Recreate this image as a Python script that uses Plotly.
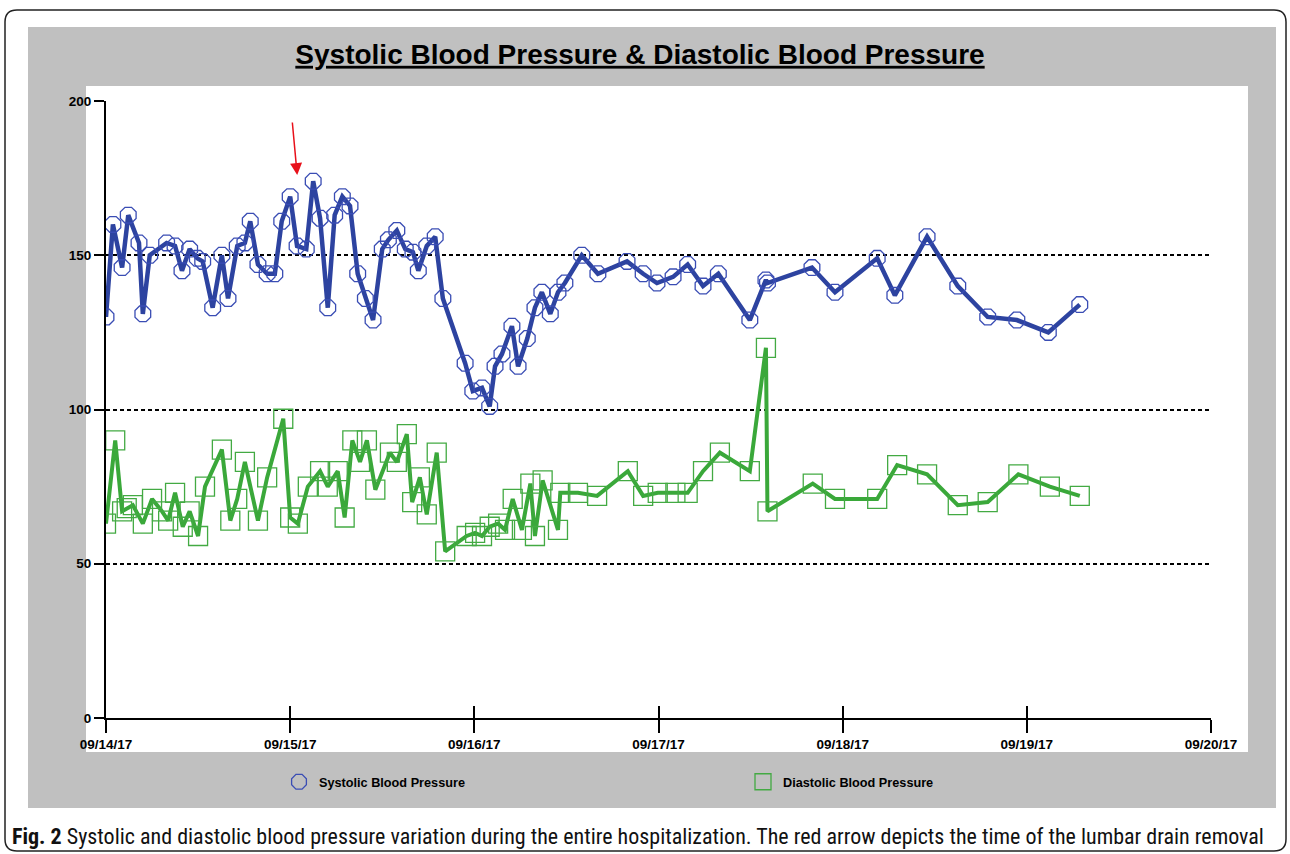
import plotly.graph_objects as go
import pandas as pd

# ---------------- data ----------------
start = pd.Timestamp("2017-09-14 00:00")

sys_hours = [0.0, 0.9, 2.1, 2.9, 4.3, 4.8, 5.7, 7.9, 9.0, 9.9, 10.9, 11.9, 12.6, 13.9, 15.1, 15.9,
             17.1, 18.1, 18.8, 19.8, 21.0, 22.0, 22.9, 24.0, 24.9, 26.1, 27.0, 27.9, 28.9, 29.8,
             30.8, 31.8, 32.8, 33.8, 34.8, 36.0, 36.8, 37.9, 39.0, 40.0, 40.7, 41.8, 42.9, 43.9,
             46.8, 47.8, 49.0, 50.0, 50.7, 51.6, 52.9, 53.7, 54.9, 55.9, 56.8, 57.9, 58.9, 59.8,
             62.0, 64.1, 67.9, 70.0, 71.8, 73.9, 75.8, 77.8, 79.8, 83.9, 86.0, 86.2, 92.0, 95.0,
             100.5, 102.8, 107.0, 111.0, 114.9, 118.7, 122.8, 126.9]
systolic = [130, 160, 146, 163, 154, 131, 150, 154, 153, 145, 152, 149, 148, 133, 150, 136,
            153, 154, 161, 147, 144, 144, 161, 169, 153, 152, 174, 162, 133, 163,
            169, 166, 144, 136, 129, 152, 155, 158, 152, 151, 145, 153, 156, 136,
            115, 106, 107, 101, 114, 118, 127, 114, 123, 133, 138, 131, 138, 141,
            150, 144, 148, 144, 141, 143, 147, 140, 144, 129, 142, 141, 146, 138,
            149, 137, 156, 140, 130, 129, 125, 134]

dia_hours = [0.0, 1.2, 2.1, 2.7, 3.5, 4.8, 6.0, 7.3, 8.1, 9.0, 10.0, 10.9, 12.0, 12.9, 15.1,
             16.2, 17.1, 18.1, 19.8, 21.0, 23.1, 24.0, 25.0, 26.3, 27.9, 28.9, 30.2, 31.1, 32.1,
             33.1, 34.0, 35.1, 37.0, 37.9, 39.2, 39.9, 40.9, 41.8, 43.1, 44.2, 47.0, 48.1, 49.0,
             50.0, 51.1, 52.0, 53.0, 54.2, 55.3, 55.9, 56.9, 58.9, 59.2, 61.5, 64.0, 68.0, 70.0,
             71.9, 74.2, 75.8, 77.8, 80.0, 83.9, 86.0, 86.2, 92.1, 95.0, 100.5, 103.1, 107.0,
             111.0, 114.9, 118.9, 123.0, 126.9]
diastolic = [63, 90, 67, 68, 69, 63, 71, 67, 64, 73, 62, 67, 59, 75, 87,
             64, 71, 83, 64, 78, 97, 65, 63, 75, 80, 75, 80, 65, 90,
             83, 90, 74, 86, 83, 92, 70, 78, 66, 86, 54, 59, 60, 59,
             62, 63, 61, 71, 61, 76, 59, 77, 61, 73, 73, 72, 80, 72,
             73, 73, 73, 80, 86, 80, 120, 67, 76, 71, 71, 82, 79,
             69, 70, 79, 75, 72]

x_range = ["2017-09-14", "2017-09-20"]
y_ticks = [0, 50, 100, 150, 200]
arrow_time = "2017-09-15 00:55"
arrow_value = 176

title_text = "Systolic Blood Pressure & Diastolic Blood Pressure"
sys_name = "Systolic Blood Pressure"
dia_name = "Diastolic Blood Pressure"
caption_bold = "Fig. 2"
caption_rest = (" Systolic and diastolic blood pressure variation during the entire hospitalization. "
                "The red arrow depicts the time of the lumbar drain removal")

sys_x = [start + pd.Timedelta(hours=h) for h in sys_hours]
dia_x = [start + pd.Timedelta(hours=h) for h in dia_hours]

# ---------------- styling ----------------
W, H = 1290, 854
L, R, T, B = 106, 1211, 101, 718


def PX(px):
    return (px - L) / (R - L)


def PY(py):
    return (B - py) / (B - T)


BLUE_LINE = "#2d43a0"
BLUE_MK = "#3a4db4"
GREEN_LINE = "#3aa83a"
GREEN_MK = "#43aa43"
LAB = "Liberation Sans, Arial, sans-serif"

fig = go.Figure()

fig.add_trace(go.Scatter(
    x=sys_x, y=systolic, mode="lines+markers", name=sys_name, showlegend=False,
    line=dict(color=BLUE_LINE, width=4.5),
    marker=dict(symbol="octagon-open", size=17, color=BLUE_MK, line=dict(width=1.3, color=BLUE_MK)),
))
fig.add_trace(go.Scatter(
    x=dia_x, y=diastolic, mode="lines+markers", name=dia_name, showlegend=False,
    line=dict(color=GREEN_LINE, width=4),
    marker=dict(symbol="square-open", size=19, color=GREEN_MK, line=dict(width=1.3, color=GREEN_MK)),
))
# legend-only entries (markers only, as in the reference legend)
fig.add_trace(go.Scatter(
    x=[None], y=[None], mode="markers", name=sys_name, xaxis="x2", legend="legend",
    marker=dict(symbol="octagon-open", size=16, color=BLUE_MK, line=dict(width=1.3, color=BLUE_MK)),
))
fig.add_trace(go.Scatter(
    x=[None], y=[None], mode="markers", name=dia_name, xaxis="x2", legend="legend2",
    marker=dict(symbol="square-open", size=16, color=GREEN_MK, line=dict(width=1.3, color=GREEN_MK)),
))

# background panels
shapes = []
r = 12
x0, y0, x1, y1 = 5, 10, 1286, 851
path = (f"M {PX(x0 + r)},{PY(y0)} L {PX(x1 - r)},{PY(y0)} Q {PX(x1)},{PY(y0)} {PX(x1)},{PY(y0 + r)} "
        f"L {PX(x1)},{PY(y1 - r)} Q {PX(x1)},{PY(y1)} {PX(x1 - r)},{PY(y1)} "
        f"L {PX(x0 + r)},{PY(y1)} Q {PX(x0)},{PY(y1)} {PX(x0)},{PY(y1 - r)} "
        f"L {PX(x0)},{PY(y0 + r)} Q {PX(x0)},{PY(y0)} {PX(x0 + r)},{PY(y0)} Z")
shapes.append(dict(type="path", xref="paper", yref="paper", path=path, layer="below",
                   line=dict(color="#222222", width=1.5), fillcolor="white"))
shapes.append(dict(type="rect", xref="paper", yref="paper", layer="below",
                   x0=PX(28), x1=PX(1276), y0=PY(808), y1=PY(27),
                   fillcolor="#c0c0c0", line=dict(width=0)))
shapes.append(dict(type="rect", xref="paper", yref="paper", layer="below",
                   x0=PX(86), x1=PX(1248), y0=PY(752), y1=PY(86),
                   fillcolor="white", line=dict(width=0)))

annotations = [
    dict(x=arrow_time, y=arrow_value, xref="x", yref="y", text="", showarrow=True,
         ax=-5, ay=-54, arrowcolor="#e8101a", arrowwidth=1.5, arrowhead=2, arrowsize=1.6),
    dict(x=PX(10), y=PY(836), xref="paper", yref="paper", xanchor="left", yanchor="middle",
         showarrow=False, align="left",
         text=f"<b>{caption_bold}</b>{caption_rest}",
         font=dict(family="Roboto Condensed, Liberation Sans Narrow, sans-serif", size=22,
                   color="#111111")),
]

fig.update_layout(
    width=W, height=H, autosize=False,
    margin=dict(l=L, r=W - R, t=T, b=H - B, pad=0),
    paper_bgcolor="white", plot_bgcolor="rgba(0,0,0,0)",
    shapes=shapes, annotations=annotations,
    title=dict(text=f"<u><b>{title_text}</b></u>", x=640 / W, xanchor="center",
               y=1 - 54 / H, yanchor="middle", xref="container", yref="container",
               font=dict(family=LAB, size=28, color="black")),
    xaxis=dict(type="date", range=x_range, dtick=86400000, tickformat="%m/%d/%y",
               showgrid=False, zeroline=False, showline=True, linecolor="black", linewidth=2,
               ticks="outside", ticklen=13, tickwidth=1.5, tickcolor="black",
               tickfont=dict(family=LAB, size=13.5, color="black", weight="bold")),
    xaxis2=dict(type="date", range=x_range, dtick=86400000, overlaying="x", side="bottom",
                showgrid=False, zeroline=False, showline=False, showticklabels=False,
                ticks="inside", ticklen=12, tickwidth=1.5, tickcolor="black"),
    yaxis=dict(range=[0, 200], tickvals=y_ticks, showgrid=True, gridcolor="black",
               gridwidth=1.5, griddash="4px,3px", zeroline=False, showline=True,
               linecolor="black", linewidth=2, ticks="outside", ticklen=10, tickwidth=1.5,
               tickcolor="black",
               tickfont=dict(family=LAB, size=13.5, color="black", weight="bold")),
    legend=dict(x=PX(279), y=PY(782), xanchor="left", yanchor="middle", orientation="h",
                bgcolor="rgba(0,0,0,0)", itemwidth=30,
                font=dict(family=LAB, size=12.7, color="black", weight="bold")),
    legend2=dict(x=PX(743), y=PY(782), xanchor="left", yanchor="middle", orientation="h",
                 bgcolor="rgba(0,0,0,0)", itemwidth=30,
                 font=dict(family=LAB, size=12.7, color="black", weight="bold")),
)

fig.write_html("out.html", config={"displayModeBar": False},
               post_script="document.body.style.margin='0px';")
